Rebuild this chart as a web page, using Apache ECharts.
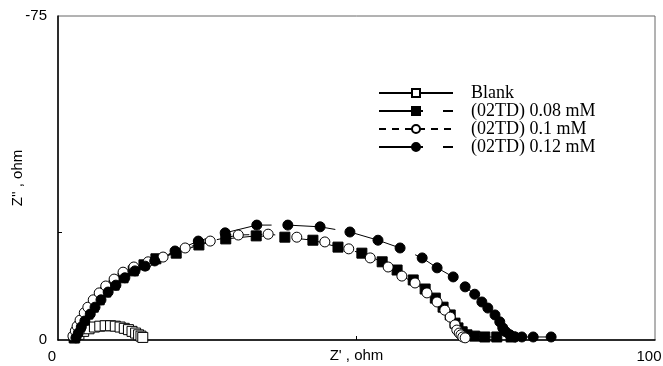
<!DOCTYPE html>
<html>
<head>
<meta charset="utf-8">
<script src="https://cdn.jsdelivr.net/npm/echarts@6/dist/echarts.min.js"></script>
<style>
  html, body { margin: 0; padding: 0; background: #fff; }
  #chart { width: 663px; height: 366px; }
</style>
</head>
<body>
<div id="chart"></div>
<script>
var seriesNames = ['Blank', '(02TD) 0.08 mM', '(02TD) 0.1 mM', '(02TD) 0.12 mM'];

// [Z', Z''] pairs
var blank = [[2.8,-0.5],[3.5,-1.3],[4.3,-2.0],[5.2,-2.6],[6.1,-3.0],[7.0,-3.2],[7.9,-3.3],
  [8.8,-3.3],[9.6,-3.2],[10.4,-3.0],[11.1,-2.7],[11.8,-2.4],[12.4,-2.0],[13.0,-1.6],
  [13.5,-1.2],[13.9,-0.9],[14.2,-0.6]];

var td008 = [[2.7,-0.5],[3.2,-1.9],[3.7,-3.2],[4.4,-4.6],[5.0,-6.0],[5.9,-7.6],[6.9,-9.3],
  [8.0,-11.1],[9.4,-12.7],[10.9,-14.4],[12.6,-16.0],[14.4,-17.4],[16.4,-18.8],[19.8,-20.1],
  [23.6,-22.0],[28.1,-23.4],[33.2,-24.1],[38.0,-23.8],[42.7,-23.1],[46.9,-21.5],[50.9,-20.1],
  [54.3,-18.1],[56.8,-16.2],[59.5,-13.9],[61.5,-11.8],[63.2,-9.7],[64.5,-7.6],[65.7,-5.8],
  [66.5,-3.9],[67.0,-2.8],[67.7,-1.9],[68.5,-1.2],[69.8,-0.9],[71.5,-0.7],[73.5,-0.7],[75.9,-0.7]];

var td01 = [[2.5,-0.9],[2.9,-2.1],[3.2,-3.2],[3.7,-4.6],[4.4,-6.3],[5.0,-7.6],[5.9,-9.3],
  [6.9,-10.9],[8.0,-12.5],[9.4,-14.1],[10.9,-15.7],[12.7,-16.9],[15.1,-18.1],[17.6,-19.2],
  [21.3,-21.3],[25.5,-22.9],[30.2,-24.3],[35.2,-24.5],[40.0,-23.8],[44.7,-22.7],[48.7,-21.1],
  [52.3,-19.0],[55.3,-16.9],[57.6,-14.8],[59.8,-13.2],[61.8,-10.9],[63.5,-8.8],[64.8,-6.9],
  [65.7,-5.3],[66.5,-3.5],[66.8,-2.3],[67.2,-1.6],[67.5,-1.2],[67.8,-0.7],[68.2,-0.5]];

var td012 = [[3.0,-0.5],[3.4,-1.6],[3.9,-3.0],[4.5,-4.4],[5.4,-6.0],[6.2,-7.6],[7.2,-9.3],
  [8.4,-11.1],[9.7,-12.7],[11.2,-14.4],[12.9,-16.0],[14.6,-17.1],[16.2,-18.3],[19.6,-20.6],
  [23.5,-22.9],[28.0,-24.8],[33.3,-26.6],[38.5,-26.6],[43.9,-26.2],[48.9,-25.0],[53.6,-23.1],
  [57.3,-21.3],[61.0,-19.0],[63.5,-16.7],[66.2,-14.6],[68.2,-12.3],[69.8,-10.6],[71.0,-8.8],
  [72.0,-7.4],[73.2,-5.8],[74.0,-4.2],[74.5,-2.8],[75.0,-1.9],[75.7,-1.2],[76.6,-0.7],
  [77.7,-0.7],[79.6,-0.7],[82.6,-0.7]];

var xLabels = [0, 100];
var yLabels = [-75, 0];
var xTicks = [50];
var yTicks = [-25];

var chart = echarts.init(document.getElementById('chart'));

function makeSeries(name, data, symbol, fill, dash) {
    return {
        name: name,
        type: 'line',
        data: data,
        symbol: symbol,
        symbolSize: 10,
        showSymbol: true,
        lineStyle: { color: '#000', width: 1, type: dash },
        itemStyle: { color: fill, borderColor: '#000', borderWidth: 1 },
        z: 3
    };
}

var option = {
    animation: false,
    backgroundColor: '#fff',
    grid: {
        left: 58, top: 16, right: 8, bottom: 26,
        outerBoundsMode: 'none',
        containLabel: false,
        show: true, borderColor: '#666', borderWidth: 1
    },
    legend: {
        orient: 'vertical',
        left: 378,
        top: 84,
        padding: 0,
        itemWidth: 74,
        itemHeight: 10,
        itemGap: 0,
        data: seriesNames,
        textStyle: {
            fontFamily: 'Liberation Serif',
            fontSize: 18,
            color: '#000',
            lineHeight: 18,
            padding: [0, 0, 0, 13]
        }
    },
    xAxis: {
        type: 'value',
        min: 0,
        max: 100,
        name: "Z' , ohm",
        nameLocation: 'middle',
        nameGap: 8,
        nameMoveOverlap: false,
        nameTextStyle: { fontFamily: 'Liberation Sans', fontSize: 15, color: '#000', verticalAlign: 'top' },
        splitLine: { show: false },
        axisLine: { lineStyle: { color: '#000', width: 1.5 } },
        axisTick: { inside: true, length: 4, customValues: xTicks, lineStyle: { color: '#000' } },
        axisLabel: { customValues: xLabels, fontFamily: 'Liberation Sans', fontSize: 15, color: '#000', margin: 9, padding: [0, 12, 0, 0] }
    },
    yAxis: {
        type: 'value',
        inverse: true,
        min: -75,
        max: 0,
        name: "Z'' , ohm",
        nameLocation: 'middle',
        nameGap: 33,
        nameMoveOverlap: false,
        nameRotate: 90,
        nameTextStyle: { fontFamily: 'Liberation Sans', fontSize: 15, color: '#000' },
        splitLine: { show: false },
        axisLine: { lineStyle: { color: '#000', width: 1.5 } },
        axisTick: { inside: true, length: 4, customValues: yTicks, lineStyle: { color: '#000' } },
        axisLabel: { customValues: yLabels, fontFamily: 'Liberation Sans', fontSize: 15, color: '#000', margin: 11 }
    },
    series: [
        makeSeries(seriesNames[0], blank, 'rect', '#fff', 'solid'),
        makeSeries(seriesNames[1], td008, 'rect', '#000', [44, 20]),
        makeSeries(seriesNames[2], td01, 'circle', '#fff', [7, 6]),
        makeSeries(seriesNames[3], td012, 'circle', '#000', [44, 20])
    ]
};

chart.setOption(option);
</script>
</body>
</html>
